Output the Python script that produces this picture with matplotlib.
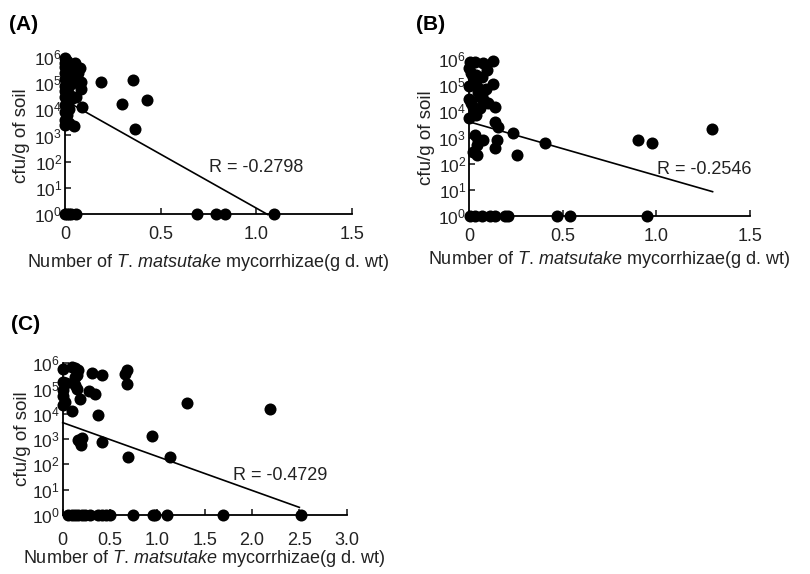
import matplotlib
matplotlib.use("Agg")
import matplotlib.pyplot as plt

plt.rcParams['font.family'] = ['Liberation Sans', 'DejaVu Sans']
plt.rcParams['mathtext.fontset'] = 'custom'
plt.rcParams['mathtext.rm'] = 'Liberation Sans'
plt.rcParams['mathtext.it'] = 'Liberation Sans:italic'

# Panel A
a_x = [0.0, 0.0, 0.0, 0.0, 0.0, 0.0, 0.0, 0.0, 0.0, 0.0, 0.0, 0.0,
       0.01, 0.01, 0.01, 0.01, 0.01, 0.01,
       0.02, 0.02, 0.02, 0.02, 0.02,
       0.03, 0.03, 0.03,
       0.045, 0.05, 0.05, 0.06, 0.06, 0.07, 0.08, 0.085, 0.085, 0.09,
       0.19, 0.357, 0.296, 0.427, 0.366,
       0.0, 0.01, 0.02, 0.03, 0.06, 0.69, 0.79, 0.835, 1.09]
a_y = [9e5, 6e5, 4e5, 2.5e5, 1.5e5, 8e4, 5e4, 3e4, 1.5e4, 8e3, 4e3, 2.5e3,
       7e5, 3e5, 1.2e5, 6e4, 2e4, 6e3,
       5e5, 2e5, 4e4, 1e4, 3e3,
       3e5, 9e4, 2.5e4,
       2.4e3, 6e5, 1.8e5, 4e5, 3e4, 2.5e5, 3.8e5, 1.1e5, 6e4, 1.2e4,
       1.1e5, 1.35e5, 1.65e4, 2.2e4, 1.8e3,
       1, 1, 1, 1, 1, 1, 1, 1, 1]
a_fit_x = [0.0, 1.06]
a_fit_y = [2.2e4, 0.95]

# Panel B
b_x = [0.005, 0.032, 0.076, 0.13, 0.094, 0.068, 0.13, 0.139, 0.139, 0.156,
       0.148, 0.139, 0.237, 0.406, 0.255, 0.0, 0.032, 0.076, 0.041, 0.041,
       0.05, 0.023,
       0.0, 0.01, 0.02, 0.03, 0.04, 0.05, 0.06, 0.07, 0.0, 0.01, 0.02, 0.03,
       0.04, 0.05, 0.06, 0.08, 0.0, 0.02, 0.04, 0.06, 0.1, 0.09,
       0.9, 0.975, 1.296,
       0.005, 0.032, 0.068, 0.112, 0.139, 0.192, 0.21, 0.468, 0.539, 0.952]
b_y = [7.8e5, 7.8e5, 6.8e5, 8.3e5, 3.7e5, 2.1e5, 1.07e5, 1.5e4, 4e3, 2.6e3,
       8e2, 3.8e2, 1.45e3, 5.9e2, 2.1e2, 5.4e3, 1.2e3, 8e2, 5.1e2, 2.1e2,
       8e2, 2.8e2,
       4.5e5, 3e5, 2e5, 1.5e5, 1e5, 8e4, 6e4, 4e4, 3e4, 2e4, 1.5e4, 1e4,
       7e3, 5.5e4, 3.5e4, 2.5e4, 9e4, 1.2e5, 2.5e5, 1.3e4, 2e4, 7e4,
       8e2, 6.3e2, 2.2e3,
       1, 1, 1, 1, 1, 1, 1, 1, 1, 1]
b_fit_x = [0.0, 1.3]
b_fit_y = [4.0e3, 8.5]

# Panel C
c_x = [0.0, 0.095, 0.13, 0.165, 0.148, 0.13, 0.306, 0.41, 0.66, 0.68, 0.68,
       0.0, 0.04, 0.13, 0.0, 0.148, 0.28, 0.34, 0.0, 0.024, 0.18, 0.0, 0.095,
       0.376, 1.31, 2.19,
       0.165, 0.2, 0.18, 0.19, 0.41, 0.94, 0.693, 1.133,
       0.06, 0.095, 0.13, 0.165, 0.2, 0.235, 0.29, 0.376, 0.41, 0.46, 0.5,
       0.745, 0.957, 0.975, 1.1, 1.696, 2.52]
c_y = [6e5, 7e5, 6.5e5, 5.5e5, 3.6e5, 3e5, 4e5, 3.6e5, 3.8e5, 5.5e5, 1.5e5,
       1.9e5, 1.6e5, 1.4e5, 9e4, 1e5, 8e4, 6e4, 5e4, 3e4, 3.8e4,
       2.2e4, 1.3e4, 9e3, 2.6e4, 1.5e4,
       9e2, 1.07e3, 8e2, 6e2, 7.4e2, 1.3e3, 2e2, 2e2,
       1, 1, 1, 1, 1, 1, 1, 1, 1, 1, 1, 1, 1, 1, 1, 1, 1]
c_fit_x = [0.0, 2.5]
c_fit_y = [4.5e3, 2.0]

y_ticks = [1, 10, 100, 1e3, 1e4, 1e5, 1e6]
xlabel = r"Number of $\mathit{T.\,matsutake}$ mycorrhizae(g d. wt)"

fig = plt.figure(figsize=(8.1, 5.74), dpi=100)


def panel(rect, xs, ys, fx, fy, xticks, xticklabels, rtext, rpos, xlab_y, ylab_x, xpad):
    ax = fig.add_axes(rect)
    ax.plot(fx, fy, color='black', lw=1.2, clip_on=False, zorder=2)
    ax.scatter(xs, ys, s=75, color='black', clip_on=False, zorder=3, linewidths=0)
    ax.set_yscale('log')
    ax.set_ylim(1, 1e6)
    ax.set_xlim(xticks[0], xticks[-1])
    ax.set_yticks(y_ticks)
    ax.yaxis.set_minor_locator(matplotlib.ticker.NullLocator())
    ax.set_xticks(xticks)
    ax.set_xticklabels(xticklabels)
    ax.tick_params(direction='in', length=4, width=1.2, colors='#222222')
    ax.tick_params(axis='x', pad=xpad, labelsize=13)
    ax.tick_params(axis='y', pad=2, labelsize=12.5)
    for s in ['top', 'right']:
        ax.spines[s].set_visible(False)
    for s in ['left', 'bottom']:
        ax.spines[s].set_linewidth(1.3)
    ax.set_xlabel(xlabel, fontsize=13, color='#222222')
    ax.xaxis.label.set_va('center')
    ax.xaxis.set_label_coords(0.5, xlab_y)
    ax.set_ylabel('cfu/g of soil', fontsize=13.5, color='#222222')
    ax.yaxis.label.set_va('center')
    ax.yaxis.set_label_coords(ylab_x, 0.5)
    ax.text(rpos[0], rpos[1], rtext, transform=ax.transAxes, fontsize=13,
            va='center', ha='left', color='#222222')
    return ax


panel([0.0802, 0.6272, 0.3543, 0.2735], a_x, a_y, a_fit_x, a_fit_y,
      [0, 0.5, 1.0, 1.5], ['0', '0.5', '1.0', '1.5'], 'R = -0.2798',
      (0.502, 0.295), -0.31, -0.15, 9)
panel([0.579, 0.6237, 0.347, 0.2735], b_x, b_y, b_fit_x, b_fit_y,
      [0, 0.5, 1.0, 1.5], ['0', '0.5', '1.0', '1.5'], 'R = -0.2546',
      (0.669, 0.293), -0.28, -0.152, 9)
panel([0.0774, 0.1028, 0.3506, 0.2643], c_x, c_y, c_fit_x, c_fit_y,
      [0, 0.5, 1.0, 1.5, 2.0, 2.5, 3.0],
      ['0', '0.5', '1.0', '1.5', '2.0', '2.5', '3.0'], 'R = -0.4729',
      (0.6, 0.26), -0.29, -0.143, 12)

fig.text(9 / 810, 1 - 25 / 574, '(A)', fontsize=15, fontweight='bold', va='center')
fig.text(416 / 810, 1 - 25 / 574, '(B)', fontsize=15, fontweight='bold', va='center')
fig.text(11 / 810, 1 - 325 / 574, '(C)', fontsize=15, fontweight='bold', va='center')

fig.savefig('out.png', dpi=100)
